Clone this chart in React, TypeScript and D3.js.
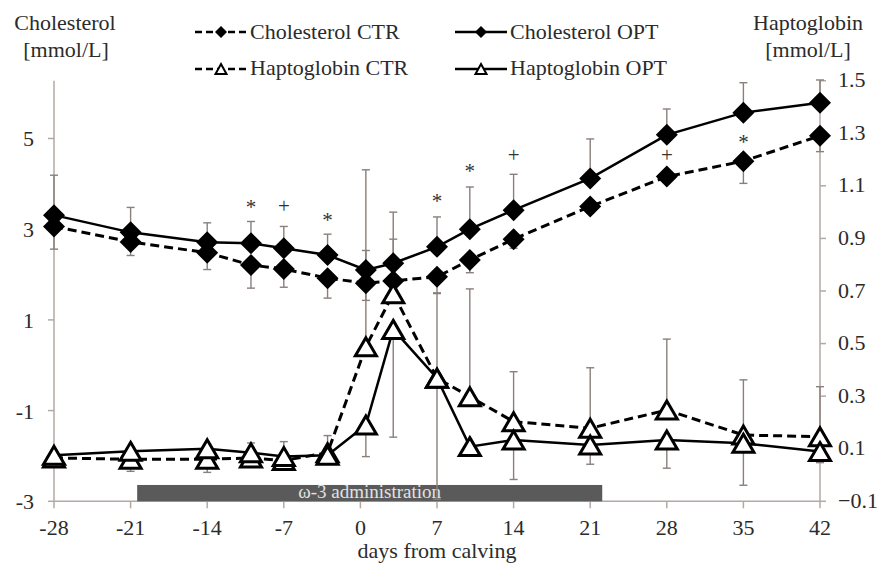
import * as d3 from 'd3';

const days = [-28, -21, -14, -10, -7, -3, 0.5, 3, 7, 10, 14, 21, 28, 35, 42];

// cholesterol, mmol/L (left axis)
const cholCTR = [3.06, 2.72, 2.48, 2.21, 2.12, 1.92, 1.81, 1.86, 1.95, 2.32, 2.78, 3.5, 4.16, 4.5, 5.06];
const cholOPT = [3.31, 2.93, 2.71, 2.69, 2.58, 2.43, 2.1, 2.25, 2.61, 3.0, 3.42, 4.12, 5.08, 5.57, 5.79];
const cholCTRerr = [0.5, 0.3, 0.37, 0.51, 0.4, 0.44, 0.38, 0.18, 0.37, 0.28, 0.2, 0.15, 0.1, 0.49, 0.35];
const cholOPTerr = [0.88, 0.55, 0.43, 0.48, 0.48, 0.46, 0.43, 0.53, 0.66, 0.93, 0.79, 0.87, 0.57, 0.66, 0.5];

// haptoglobin, mmol/L (right axis)
const haptoCTR = [0.065, 0.06, 0.06, 0.065, 0.055, 0.085, 0.488, 0.69, 0.368, 0.298, 0.203, 0.178, 0.247, 0.152, 0.146];
const haptoOPT = [0.075, 0.09, 0.1, 0.085, 0.07, 0.075, 0.19, 0.554, 0.368, 0.108, 0.133, 0.114, 0.133, 0.121, 0.089];
const haptoCTRerr = [0.02, 0.02, 0.02, 0.057, 0.072, 0.065, 0.673, 0.31, 0.325, 0.41, 0.19, 0.23, 0.27, 0.21, 0.19];
const haptoOPTerr = [0.02, 0.076, 0.09, 0.03, 0.03, 0.03, 0.12, 0.41, 0.46, 0.03, 0.15, 0.073, 0.107, 0.16, 0.042];

// significance marks (placed in cholesterol units)
const sigDays = [-10, -7, -3, 7, 10, 14, 28, 35];
const sigSymbols = ['*', '+', '*', '*', '*', '+', '+', '*'];
const sigLevels = [3.57, 3.51, 3.28, 3.7, 4.36, 4.64, 4.64, 4.99];

const xTicks = [-28, -21, -14, -7, 0, 7, 14, 21, 28, 35, 42];
const leftTicks = [-3, -1, 1, 3, 5];
const rightTicks = [-0.1, 0.1, 0.3, 0.5, 0.7, 0.9, 1.1, 1.3, 1.5];
const adminPeriod = [-20.4, 22.1];

const FONT = '"Liberation Serif", "Times New Roman", serif';
const TXT = '#2b2b2b';
const AXIS = '#b3a9a3';
const ERR = '#8a7f7a';

const x = d3.scaleLinear().domain([-28, 42]).range([54, 820]);
const yL = d3.scaleLinear().domain([-3, 6.274]).range([501.3, 80.7]);
const yR = d3.scaleLinear().domain([-0.1, 1.5]).range([501.3, 80.7]);

const diamond = (cx: number, cy: number, r: number) =>
  `M${cx},${cy - r}L${cx + r},${cy}L${cx},${cy + r}L${cx - r},${cy}Z`;
const triangle = (cx: number, cy: number, w: number, h: number) =>
  `M${cx},${cy - h / 2}L${cx + w / 2},${cy + h / 2}L${cx - w / 2},${cy + h / 2}Z`;

const App = () => {
  const lineL = d3.line<number>().x((_, i) => x(days[i])).y(d => yL(d));
  const lineR = d3.line<number>().x((_, i) => x(days[i])).y(d => yR(d));

  const errBar = (cx: number, y0: number, y1: number, key: string) => (
    <g key={key} stroke={ERR} strokeWidth={1.4}>
      <line x1={cx} x2={cx} y1={y0} y2={y1} />
      <line x1={cx - 4} x2={cx + 4} y1={y1} y2={y1} />
    </g>
  );

  return (
    <svg width={887} height={581} style={{ position: 'absolute', left: 0, top: 0, background: '#fff' }}
      fontFamily={FONT}>
      {/* axis titles */}
      <g fill={TXT} fontSize={22} textAnchor="middle">
        <text x={65} y={30}>Cholesterol</text>
        <text x={66} y={57}>[mmol/L]</text>
        <text x={808} y={30}>Haptoglobin</text>
        <text x={808} y={57}>[mmol/L]</text>
        <text x={437} y={558}>days from calving</text>
      </g>

      {/* legend */}
      <g>
        <line x1={195} x2={247} y1={32} y2={32} stroke="#000" strokeWidth={2.5} strokeDasharray="7,4" />
        <path d={diamond(221, 32, 6)} fill="#000" />
        <text x={250} y={39} fontSize={22} fill={TXT}>Cholesterol CTR</text>
        <line x1={195} x2={247} y1={69} y2={69} stroke="#000" strokeWidth={2.5} strokeDasharray="7,4" />
        <path d={triangle(221, 69, 11, 10)} fill="#fff" stroke="#000" strokeWidth={2} />
        <text x={250} y={75} fontSize={22} fill={TXT}>Haptoglobin CTR</text>
        <line x1={455} x2={507} y1={32} y2={32} stroke="#000" strokeWidth={2.5} />
        <path d={diamond(481, 32, 6)} fill="#000" />
        <text x={510} y={39} fontSize={22} fill={TXT}>Cholesterol OPT</text>
        <line x1={455} x2={507} y1={69} y2={69} stroke="#000" strokeWidth={2.5} />
        <path d={triangle(481, 69, 11, 10)} fill="#fff" stroke="#000" strokeWidth={2} />
        <text x={510} y={75} fontSize={22} fill={TXT}>Haptoglobin OPT</text>
      </g>

      {/* axes */}
      <g stroke={AXIS} strokeWidth={1.5}>
        <line x1={x(-28)} x2={x(-28)} y1={yL.range()[1]} y2={yL.range()[0]} />
        <line x1={x(42)} x2={x(42)} y1={yR.range()[1]} y2={yR.range()[0]} />
        <line x1={x(-28)} x2={x(42)} y1={yL(-3)} y2={yL(-3)} />
        {xTicks.map(t => <line key={'xt' + t} x1={x(t)} x2={x(t)} y1={yL(-3)} y2={yL(-3) + 7} />)}
        {leftTicks.map(t => <line key={'lt' + t} x1={x(-28) - 6} x2={x(-28)} y1={yL(t)} y2={yL(t)} />)}
        {rightTicks.map(t => <line key={'rt' + t} x1={x(42)} x2={x(42) + 6} y1={yR(t)} y2={yR(t)} />)}
      </g>
      <g fill={TXT} fontSize={22}>
        {xTicks.map(t => <text key={'xl' + t} x={x(t)} y={535} textAnchor="middle">{t}</text>)}
        {leftTicks.map(t => <text key={'ll' + t} x={34} y={yL(t)} dy="0.36em" textAnchor="end">{t}</text>)}
        {rightTicks.map(t => <text key={'rl' + t} x={838} y={yR(t)} dy="0.3em">{d3.format('.1f')(t)}</text>)}
      </g>

      {/* administration period */}
      <rect x={x(adminPeriod[0])} width={x(adminPeriod[1]) - x(adminPeriod[0])}
        y={yL(-2.64)} height={yL(-3) - yL(-2.64)} fill="#5a5a5a" />
      <text x={(x(adminPeriod[0]) + x(adminPeriod[1])) / 2} y={498} textAnchor="middle" fontSize={19}
        fill="#e2e2e2">ω-3 administration</text>

      {/* error bars */}
      {days.map((d, i) => errBar(x(d), yL(cholOPT[i]), yL(cholOPT[i] + cholOPTerr[i]), 'co' + i))}
      {days.map((d, i) => errBar(x(d), yL(cholCTR[i]), yL(cholCTR[i] - cholCTRerr[i]), 'cc' + i))}
      {days.map((d, i) => errBar(x(d), yR(haptoCTR[i]), yR(haptoCTR[i] + haptoCTRerr[i]), 'hc' + i))}
      {days.map((d, i) => errBar(x(d), yR(haptoOPT[i]), yR(haptoOPT[i] - haptoOPTerr[i]), 'ho' + i))}

      {/* lines */}
      <path d={lineL(cholCTR) ?? ''} fill="none" stroke="#000" strokeWidth={3} strokeDasharray="9,5" />
      <path d={lineL(cholOPT) ?? ''} fill="none" stroke="#000" strokeWidth={2.5} />
      {days.map((d, i) => <path key={'cm' + i} d={diamond(x(d), yL(cholCTR[i]), 11)} fill="#000" />)}
      {days.map((d, i) => <path key={'om' + i} d={diamond(x(d), yL(cholOPT[i]), 11)} fill="#000" />)}

      <path d={lineR(haptoCTR) ?? ''} fill="none" stroke="#000" strokeWidth={3} strokeDasharray="9,5" />
      <path d={lineR(haptoOPT) ?? ''} fill="none" stroke="#000" strokeWidth={2.5} />
      {days.map((d, i) => <path key={'hcm' + i} d={triangle(x(d), yR(haptoCTR[i]), 21, 18)}
        fill="#fff" stroke="#000" strokeWidth={3} />)}
      {days.map((d, i) => <path key={'hom' + i} d={triangle(x(d), yR(haptoOPT[i]), 21, 18)}
        fill="#fff" stroke="#000" strokeWidth={3} />)}

      {/* significance */}
      <g fill="#333" fontSize={21} textAnchor="middle">
        {sigDays.map((d, i) => (
          <text key={'s' + i} x={x(d)} y={yL(sigLevels[i])} dy={sigSymbols[i] === '*' ? '0.5em' : '0.32em'}>
            {sigSymbols[i]}
          </text>
        ))}
      </g>
    </svg>
  );
};

export default App;
